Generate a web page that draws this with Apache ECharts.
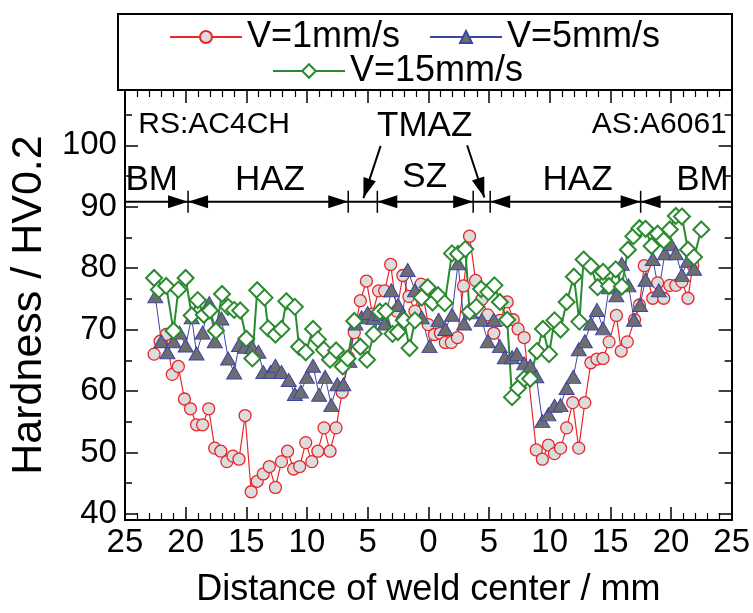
<!DOCTYPE html>
<html>
<head>
<meta charset="utf-8">
<script src="https://cdn.jsdelivr.net/npm/echarts@6/dist/echarts.min.js"></script>
<style>
  html, body { margin: 0; padding: 0; background: #fff; }
  #main { width: 753px; height: 613px; }
</style>
</head>
<body>
<div id="main"></div>
<script>
// 数据: [距焊缝中心距离 mm (负值=RS侧), 硬度 HV0.2]
const v1 = [
  [-22.6, 66.0], [-22.1, 68.1], [-21.6, 69.2], [-21.1, 62.7], [-20.6, 64.0], [-20.1, 58.7],
  [-19.6, 57.1], [-19.1, 54.5], [-18.6, 54.5], [-18.1, 57.1], [-17.6, 50.7], [-17.1, 50.2],
  [-16.6, 48.5], [-16.1, 49.4], [-15.6, 48.9], [-15.1, 56.0], [-14.6, 43.6], [-14.1, 45.3],
  [-13.6, 46.5], [-13.1, 47.7], [-12.6, 44.3], [-12.1, 48.5], [-11.6, 50.2], [-11.1, 47.3],
  [-10.6, 47.7], [-10.1, 51.6], [-9.6, 48.5], [-9.1, 50.2], [-8.6, 54.0], [-8.1, 50.2],
  [-7.6, 54.0], [-7.1, 59.8], [-6.6, 65.5], [-6.1, 69.5], [-5.6, 74.7], [-5.1, 77.9],
  [-4.6, 72.5], [-4.1, 76.3], [-3.6, 76.3], [-3.1, 80.6], [-2.6, 73.0], [-2.1, 78.8],
  [-1.6, 75.4], [-1.1, 73.0], [-0.6, 77.4], [0.0, 70.8], [0.5, 69.2], [1.0, 69.4],
  [1.4, 67.9], [1.9, 67.9], [2.4, 68.7], [2.9, 77.1], [3.4, 85.2], [3.9, 78.0],
  [4.4, 74.9], [4.9, 72.4], [5.4, 69.4], [5.9, 71.5], [6.5, 74.5], [7.0, 71.6],
  [7.4, 70.1], [7.9, 68.7], [8.9, 50.4], [9.4, 48.9], [9.9, 51.2], [10.4, 49.8],
  [10.9, 50.7], [11.4, 54.0], [11.9, 58.1], [12.4, 50.7], [12.9, 58.1], [13.4, 64.6],
  [13.9, 65.2], [14.4, 65.3], [14.9, 68.0], [15.5, 72.3], [15.9, 66.5], [16.4, 68.0],
  [17.0, 71.6], [17.4, 74.0], [17.8, 80.4], [18.5, 75.1], [18.9, 77.6], [19.4, 75.1],
  [19.9, 77.2], [20.4, 77.2], [20.9, 77.8], [21.4, 75.1], [21.8, 80.5]
];
const v5 = [
  [-22.5, 75.4], [-22.0, 68.1], [-21.5, 66.3], [-21.0, 68.1], [-20.5, 69.5], [-20.0, 67.4],
  [-19.5, 72.0], [-19.1, 66.1], [-18.6, 69.5], [-18.05, 74.3], [-17.6, 68.1], [-17.05, 71.8],
  [-16.5, 65.3], [-16.0, 63.0], [-15.6, 67.5], [-15.1, 67.2], [-14.5, 67.1], [-14.0, 66.4],
  [-13.6, 63.1], [-13.0, 63.1], [-12.6, 64.1], [-12.1, 63.1], [-11.5, 61.8], [-11.0, 59.5],
  [-10.5, 59.9], [-10.0, 62.3], [-9.5, 64.1], [-9.0, 59.4], [-8.5, 62.3], [-8.0, 57.7],
  [-7.5, 61.1], [-7.0, 61.1], [-6.5, 64.9], [-6.0, 71.0], [-5.5, 72.0], [-5.0, 72.7],
  [-4.5, 71.9], [-4.0, 72.5], [-3.6, 71.0], [-3.05, 76.4], [-2.5, 74.0], [-2.1, 72.5],
  [-1.7, 79.7], [-1.1, 76.4], [-0.55, 72.0], [0.1, 67.3], [0.85, 71.6], [1.4, 70.1],
  [1.95, 72.4], [2.45, 80.8], [2.95, 71.0], [3.5, 72.8], [4.4, 71.6], [4.9, 68.1],
  [5.4, 71.6], [5.9, 67.3], [6.3, 65.5], [6.9, 65.5], [7.3, 66.0], [7.9, 64.5],
  [8.4, 64.1], [8.9, 62.4], [9.4, 55.1], [9.9, 56.2], [10.4, 57.6], [10.9, 57.7],
  [11.4, 60.5], [11.95, 62.3], [12.4, 66.8], [12.9, 68.1], [13.4, 71.0], [13.9, 73.2],
  [14.4, 70.2], [14.9, 76.9], [15.5, 75.6], [15.95, 80.7], [16.5, 77.2], [16.95, 71.6],
  [17.45, 74.0], [17.9, 78.1], [18.5, 81.5], [19.0, 76.4], [19.5, 82.4], [20.0, 83.9],
  [20.4, 82.4], [20.9, 78.9], [21.4, 81.2], [21.9, 79.9]
];
const v15 = [
  [-22.6, 78.4], [-22.2, 76.5], [-21.6, 77.1], [-21.0, 69.8], [-20.6, 76.5], [-20.0, 78.4],
  [-19.5, 72.3], [-19.0, 74.8], [-18.5, 72.4], [-18.0, 73.1], [-17.5, 69.8], [-17.0, 75.8],
  [-16.5, 73.7], [-16.0, 73.2], [-15.5, 73.1], [-15.0, 68.5], [-14.5, 65.3], [-14.1, 76.4],
  [-13.5, 75.2], [-13.2, 70.2], [-12.6, 69.2], [-12.1, 70.1], [-11.7, 74.6], [-11.0, 73.7],
  [-10.65, 67.2], [-10.1, 66.3], [-9.5, 70.1], [-9.1, 68.4], [-8.6, 66.7], [-8.1, 65.1],
  [-7.6, 66.6], [-7.05, 64.0], [-6.65, 65.3], [-6.1, 71.4], [-5.6, 67.2], [-5.05, 65.1],
  [-4.5, 69.3], [-4.0, 72.9], [-3.5, 73.0], [-2.95, 69.3], [-2.5, 69.6], [-2.0, 71.5],
  [-1.55, 67.0], [-1.1, 71.5], [-0.55, 75.2], [-0.05, 76.9], [0.35, 74.4], [0.8, 75.6],
  [1.35, 74.3], [1.95, 82.4], [2.45, 82.3], [3.05, 83.1], [3.4, 72.9], [3.95, 73.7],
  [4.35, 76.6], [4.95, 76.1], [5.45, 77.2], [5.9, 74.5], [6.5, 71.6], [6.9, 59.0],
  [7.4, 60.5], [7.9, 62.0], [8.4, 62.0], [8.95, 66.5], [9.45, 70.1], [9.95, 66.0],
  [10.4, 71.5], [10.9, 70.0], [11.4, 74.5], [12.0, 78.6], [12.45, 71.3], [12.8, 81.4],
  [13.4, 80.3], [13.95, 76.9], [14.4, 79.4], [14.9, 77.1], [15.45, 79.8], [15.95, 77.0],
  [16.45, 83.0], [16.9, 85.2], [17.4, 86.5], [17.9, 86.4], [18.4, 83.6], [18.9, 85.6],
  [19.4, 84.5], [19.9, 86.3], [20.4, 88.5], [20.9, 88.4], [21.4, 83.0], [21.9, 81.8],
  [22.5, 86.3]
];
const seriesNames = ['V=1mm/s', 'V=5mm/s', 'V=15mm/s'];
const yMajorTicks = [40, 50, 60, 70, 80, 90, 100];
const yMinorTicks = [45, 55, 65, 75, 85, 95, 105];

const FONT = 'Liberation Sans, Arial, sans-serif';
const chart = echarts.init(document.getElementById('main'));

// 上下两条x轴(带次刻度)
function xAxisOf(pos, withLabel) {
  return {
    type: 'value', position: pos, min: -25, max: 25, interval: 5,
    axisLine: { show: true, onZero: false, lineStyle: { color: '#000', width: 2 } },
    axisTick: { show: true, inside: true, length: 13, lineStyle: { color: '#000', width: 1.5 } },
    minorTick: { show: true, splitNumber: 5, length: 7, lineStyle: { color: '#000', width: 1.2 } },
    splitLine: { show: false },
    axisLabel: {
      show: withLabel, color: '#000', fontSize: 33, fontFamily: FONT, margin: 6,
      formatter: v => String(Math.abs(v))
    },
    name: withLabel ? 'Distance of weld center / mm' : '',
    nameLocation: 'middle', nameGap: 52,
    nameTextStyle: { color: '#000', fontSize: 36, fontFamily: FONT }
  };
}
// 左右y轴: 主刻度和次刻度分开画
function yAxisOf(pos, ticks, len, withLine, withLabel) {
  return {
    type: 'value', position: pos, min: 39, max: 109,
    axisLine: { show: withLine, onZero: false, lineStyle: { color: '#000', width: 2 } },
    axisTick: { show: true, inside: true, length: len, customValues: ticks, lineStyle: { color: '#000', width: 1.5 } },
    splitLine: { show: false },
    axisLabel: {
      show: withLabel, customValues: ticks, color: '#000', fontSize: 33, fontFamily: FONT, margin: 8
    },
    name: withLabel ? 'Hardness / HV0.2' : '',
    nameLocation: 'middle', nameGap: 68,
    nameTextStyle: { color: '#000', fontSize: 43, fontFamily: FONT }
  };
}

const option = {
  animation: false,
  grid: { left: 118, right: 21, top: 90, bottom: 86, containLabel: false },
  legend: [
    {
      data: seriesNames.slice(0, 2), left: 169, top: 19, padding: 0,
      itemWidth: 72, itemHeight: 15, itemGap: 29, selectedMode: false,
      textStyle: { color: '#000', fontSize: 36, fontFamily: FONT }
    },
    {
      data: seriesNames.slice(2), left: 272, top: 53, padding: 0,
      itemWidth: 72, itemHeight: 17, selectedMode: false,
      textStyle: { color: '#000', fontSize: 36, fontFamily: FONT }
    }
  ],
  xAxis: [xAxisOf('bottom', true), xAxisOf('top', false)],
  yAxis: [
    yAxisOf('left', yMajorTicks, 13, true, true),
    yAxisOf('left', yMinorTicks, 7, false, false),
    yAxisOf('right', yMajorTicks, 13, true, false),
    yAxisOf('right', yMinorTicks, 7, false, false)
  ],
  series: [
    {
      name: seriesNames[0], type: 'line', data: v1,
      symbol: 'circle', symbolSize: 12,
      lineStyle: { color: '#e8262b', width: 1.2 },
      itemStyle: { color: '#dcdcdc', borderColor: '#e8262b', borderWidth: 1.3 }
    },
    {
      name: seriesNames[1], type: 'line', data: v5,
      symbol: 'triangle', symbolSize: [15, 13],
      lineStyle: { color: '#3d45a3', width: 1 },
      itemStyle: { color: '#6e6e6e', borderColor: '#3d45a3', borderWidth: 1 }
    },
    {
      name: seriesNames[2], type: 'line', data: v15,
      symbol: 'diamond', symbolSize: 16,
      lineStyle: { color: '#2b8a2f', width: 2 },
      itemStyle: { color: '#fff', borderColor: '#2b8a2f', borderWidth: 2 }
    }
  ]
};
chart.setOption(option);

// 区域标注(BM/HAZ/TMAZ/SZ)按数据坐标换算成像素
const p = (x, y) => chart.convertToPixel({ seriesIndex: 0 }, [x, y]);
const g = [];
const BLACK = '#000';
g.push({ type: 'rect', z: 100, shape: { x: 118, y: 14, width: 614, height: 76 },
  style: { fill: 'none', stroke: BLACK, lineWidth: 2 } });

const zoneY = 90.8;
const a = p(-25, zoneY), b = p(25, zoneY);
g.push({ type: 'line', z: 100, shape: { x1: a[0], y1: a[1], x2: b[0], y2: b[1] },
  style: { stroke: BLACK, lineWidth: 2 } });
const bounds = [-19.8, -6.6, -4.2, 3.7, 5.1, 17.5];
bounds.forEach(v => {
  const q = p(v, zoneY);
  g.push({ type: 'line', z: 100, shape: { x1: q[0], y1: q[1] - 11, x2: q[0], y2: q[1] + 11 },
    style: { stroke: BLACK, lineWidth: 1.5 } });
});
function head(tx, ty, dx, dy) {
  const L = 20, W = 6.5;
  const n = Math.hypot(dx, dy), ux = dx / n, uy = dy / n;
  return { type: 'polygon', z: 100, shape: { points: [
    [tx, ty],
    [tx - ux * L - uy * W, ty - uy * L + ux * W],
    [tx - ux * L + uy * W, ty - uy * L - ux * W]
  ] }, style: { fill: BLACK } };
}
[[-19.8, 1], [-19.8, -1], [-6.6, 1], [-4.2, -1], [3.7, 1], [5.1, -1], [17.5, 1], [17.5, -1]]
  .forEach(([v, d]) => {
    const q = p(v, zoneY);
    g.push(head(q[0], q[1], d, 0));
  });
// TMAZ 斜箭头
[[[-3.93, 99.9], [-5.35, 91.4]], [[3.2, 100.0], [4.62, 91.5]]].forEach(([s, e]) => {
  const ps = p(s[0], s[1]), pe = p(e[0], e[1]);
  g.push({ type: 'line', z: 100, shape: { x1: ps[0], y1: ps[1], x2: pe[0], y2: pe[1] },
    style: { stroke: BLACK, lineWidth: 2 } });
  g.push(head(pe[0], pe[1], pe[0] - ps[0], pe[1] - ps[1]));
});
function label(text, x, y, size, align) {
  const q = p(x, y);
  g.push({ type: 'text', z: 100, x: q[0], y: q[1],
    style: { text, fill: BLACK, fontSize: size, fontFamily: FONT, align: align || 'center', verticalAlign: 'middle' } });
}
label('RS:AC4CH', -23.9, 103.4, 30, 'left');
label('AS:A6061', 24.6, 103.4, 30, 'right');
label('TMAZ', -0.3, 103.1, 35);
label('BM', -22.8, 94.3, 35);
label('HAZ', -13.05, 94.3, 35);
label('SZ', -0.3, 94.8, 35);
label('HAZ', 12.3, 94.3, 35);
label('BM', 22.6, 94.3, 35);
chart.setOption({ graphic: g });
</script>
</body>
</html>
